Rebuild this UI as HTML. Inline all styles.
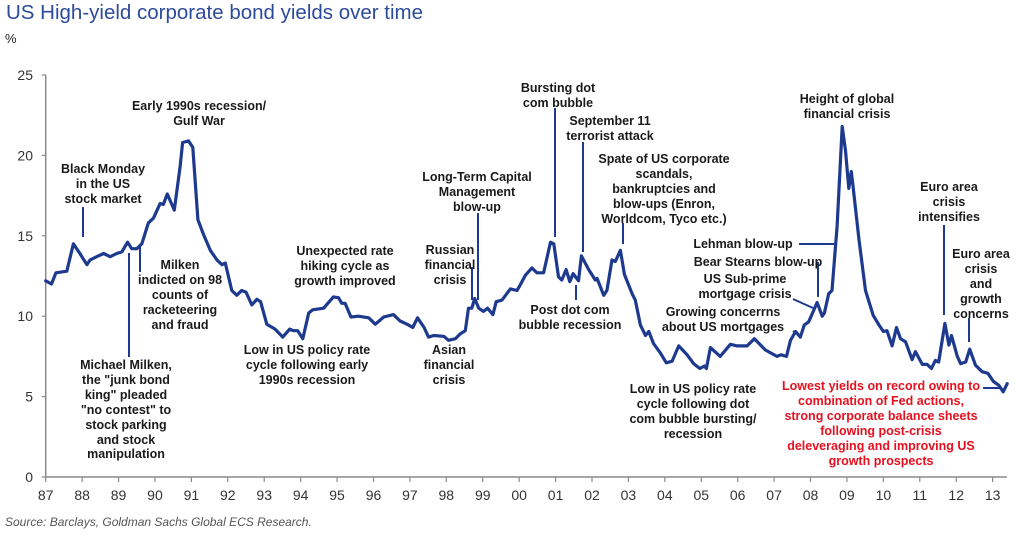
<!DOCTYPE html>
<html><head><meta charset="utf-8"><style>
body{margin:0;background:#fff;width:1018px;height:539px;overflow:hidden;position:relative;font-family:"Liberation Sans",Arial,sans-serif}
.a{position:absolute;font-weight:bold;font-size:12.5px;line-height:14.9px;color:#1a1a1a;text-align:center;white-space:nowrap;transform:translateX(-50%)}
.r{color:#e8101e}
</style></head><body>
<div style="position:absolute;left:6px;top:1px;font-size:20.5px;color:#2d4b9c">US High-yield corporate bond yields over time</div>
<div style="position:absolute;left:5px;top:31px;font-size:13px;color:#222">%</div>
<svg id="chart" width="1018" height="539" style="position:absolute;left:0;top:0"></svg>
<div style="position:absolute;left:5px;top:515px;font-size:12px;font-style:italic;color:#555">Source: Barclays, Goldman Sachs Global ECS Research.</div>

<div class="a" style="left:103px;top:162px">Black Monday<br>in the US<br>stock market</div>
<div class="a" style="left:199px;top:99px">Early 1990s recession/<br>Gulf War</div>
<div class="a" style="left:180px;top:258px">Milken<br>indicted on 98<br>counts of<br>racketeering<br>and fraud</div>
<div class="a" style="left:126px;top:358px">Michael Milken,<br>the "junk bond<br>king" pleaded<br>"no contest" to<br>stock parking<br>and stock<br>manipulation</div>
<div class="a" style="left:345px;top:244px">Unexpected rate<br>hiking cycle as<br>growth improved</div>
<div class="a" style="left:307px;top:343px">Low in US policy rate<br>cycle following early<br>1990s recession</div>
<div class="a" style="left:450px;top:243px">Russian<br>financial<br>crisis</div>
<div class="a" style="left:477px;top:170px">Long-Term Capital<br>Management<br>blow-up</div>
<div class="a" style="left:449px;top:343px">Asian<br>financial<br>crisis</div>
<div class="a" style="left:558px;top:81px">Bursting dot<br>com bubble</div>
<div class="a" style="left:610px;top:114px">September 11<br>terrorist attack</div>
<div class="a" style="left:664px;top:152px">Spate of US corporate<br>scandals,<br>bankruptcies and<br>blow-ups (Enron,<br>Worldcom, Tyco etc.)</div>
<div class="a" style="left:570px;top:303px">Post dot com<br>bubble recession</div>
<div class="a" style="left:693px;top:382px">Low in US policy rate<br>cycle following dot<br>com bubble bursting/<br>recession</div>
<div class="a" style="left:743px;top:237px">Lehman blow-up</div>
<div class="a" style="left:758px;top:255px">Bear Stearns blow-up</div>
<div class="a" style="left:745px;top:272px">US Sub-prime<br>mortgage crisis</div>
<div class="a" style="left:723px;top:305px">Growing concerrns<br>about US mortgages</div>
<div class="a" style="left:847px;top:92px">Height of global<br>financial crisis</div>
<div class="a" style="left:949px;top:180px">Euro area<br>crisis<br>intensifies</div>
<div class="a" style="left:981px;top:247px">Euro area<br>crisis<br>and<br>growth<br>concerns</div>
<div class="a r" style="left:881px;top:379px">Lowest yields on record owing to<br>combination of Fed actions,<br>strong corporate balance sheets<br>following post-crisis<br>deleveraging and improving US<br>growth prospects</div>

<script>
const dates=[1987.0,1987.16,1987.28,1987.58,1987.76,1987.94,1988.13,1988.22,1988.4,1988.59,1988.77,1988.95,1989.09,1989.25,1989.36,1989.5,1989.64,1989.82,1989.96,1990.14,1990.23,1990.34,1990.53,1990.69,1990.76,1990.92,1991.04,1991.18,1991.33,1991.52,1991.7,1991.84,1991.93,1992.11,1992.25,1992.38,1992.5,1992.66,1992.8,1992.9,1993.07,1993.3,1993.51,1993.7,1993.8,1993.92,1994.06,1994.22,1994.33,1994.63,1994.9,1995.04,1995.13,1995.22,1995.38,1995.59,1995.87,1996.05,1996.28,1996.55,1996.73,1996.92,1997.08,1997.21,1997.39,1997.51,1997.65,1997.93,1998.06,1998.25,1998.38,1998.52,1998.61,1998.7,1998.78,1998.89,1999.02,1999.13,1999.28,1999.37,1999.53,1999.76,1999.94,2000.03,2000.17,2000.35,2000.49,2000.67,2000.86,2000.95,2001.08,2001.17,2001.29,2001.39,2001.48,2001.63,2001.71,2001.91,2002.09,2002.14,2002.32,2002.41,2002.55,2002.64,2002.78,2002.89,2003.1,2003.19,2003.33,2003.47,2003.56,2003.69,2003.88,2004.04,2004.2,2004.38,2004.61,2004.79,2004.96,2005.09,2005.14,2005.25,2005.52,2005.8,2005.98,2006.26,2006.46,2006.76,2007.08,2007.19,2007.34,2007.45,2007.59,2007.72,2007.83,2007.95,2008.18,2008.32,2008.38,2008.5,2008.59,2008.73,2008.87,2008.96,2009.05,2009.12,2009.17,2009.33,2009.51,2009.72,2009.88,2010.0,2010.1,2010.24,2010.36,2010.47,2010.61,2010.79,2010.88,2011.07,2011.2,2011.32,2011.43,2011.52,2011.69,2011.8,2011.87,2012.03,2012.12,2012.26,2012.37,2012.53,2012.71,2012.87,2013.02,2013.17,2013.29,2013.4];
const yields=[12.2,12.0,12.7,12.8,14.5,13.9,13.2,13.5,13.7,13.9,13.7,13.9,14.0,14.6,14.2,14.2,14.5,15.8,16.1,17.0,16.95,17.6,16.6,19.3,20.8,20.9,20.5,16.0,15.1,14.1,13.5,13.2,13.3,11.6,11.3,11.6,11.5,10.7,11.05,10.9,9.5,9.2,8.7,9.2,9.1,9.1,8.6,10.2,10.4,10.5,11.2,11.15,10.8,10.8,9.95,10.0,9.9,9.5,9.95,10.1,9.7,9.5,9.3,9.9,9.3,8.7,8.8,8.75,8.5,8.6,8.9,9.1,10.5,10.5,11.1,10.5,10.3,10.5,10.1,10.9,11.0,11.7,11.6,11.95,12.55,13.0,12.7,12.7,14.6,14.5,12.45,12.25,12.9,12.15,12.65,12.2,13.75,12.9,12.25,12.35,11.3,11.6,13.5,13.4,14.1,12.6,11.4,11.0,9.45,8.8,9.05,8.3,7.7,7.1,7.2,8.15,7.6,7.05,6.75,6.9,6.75,8.05,7.5,8.25,8.15,8.15,8.6,7.9,7.5,7.6,7.5,8.5,9.05,8.7,9.45,9.65,10.85,10.0,10.2,11.4,11.6,15.6,21.8,20.3,17.95,19.0,18.05,14.75,11.6,10.05,9.45,9.05,9.1,8.15,9.3,8.6,8.4,7.3,7.8,7.0,7.0,6.75,7.25,7.15,9.55,8.2,8.8,7.5,7.05,7.15,7.95,6.95,6.55,6.45,5.95,5.7,5.3,5.8];
const xTickLabels=["87","88","89","90","91","92","93","94","95","96","97","98","99","00","01","02","03","04","05","06","07","08","09","10","11","12","13"];
const yTicks=[0,5,10,15,20,25];

const NS="http://www.w3.org/2000/svg";
const svg=document.getElementById('chart');
const X0=45.7,PXY=36.42,Y0=477,PXV=16.08;
const xs=d=>X0+(d-1987)*PXY;
const ys=v=>Y0-v*PXV;
function mk(tag,at){const e=document.createElementNS(NS,tag);for(const k in at)e.setAttribute(k,at[k]);svg.appendChild(e);return e;}

let e=mk('line',{x1:X0,y1:ys(25),x2:X0,y2:Y0,stroke:'#8a8a8a','stroke-width':1.5});


e=mk('line',{x1:X0,y1:Y0,x2:1007,y2:Y0,stroke:'#8a8a8a','stroke-width':1.5});


yTicks.forEach(v=>{
  mk('line',{x1:X0-4,y1:ys(v),x2:X0,y2:ys(v),stroke:'#8a8a8a','stroke-width':1.2});
  const t=mk('text',{x:33,y:ys(v)+5,'text-anchor':'end','font-size':14,fill:'#333','font-family':'Liberation Sans, Arial, sans-serif'});
  t.textContent=v;
  
  
});
xTickLabels.forEach((l,i)=>{
  const x=xs(1987+i);
  mk('line',{x1:x,y1:Y0,x2:x,y2:Y0+5,stroke:'#8a8a8a','stroke-width':1.2});
  const t=mk('text',{x:x,y:Y0+23,'text-anchor':'middle','font-size':14,fill:'#333','font-family':'Liberation Sans, Arial, sans-serif'});
  t.textContent=l;
  
  
});
// annotation connectors
const conn=[[83,207,83,237],[140,247,140,272],[129,253,129,357],[472,267,472,300],[478,213,478,300],[555,108,555,237],[583,142,583,252],[623,223,623,244],[576,285,576,300],[799,244,835,244],[818,262,818,297],[793,299,813,308],[793,331,800,336],[944,225,944,315],[969,318,969,342],[983,388,1000,388]];
conn.forEach(c=>{
  const l=mk('line',{x1:c[0],y1:c[1],x2:c[2],y2:c[3],stroke:'#1d3a8f','stroke-width':2});
  
  
});
const p=mk('polyline',{points:dates.map((d,i)=>xs(d).toFixed(1)+','+ys(yields[i]).toFixed(1)).join(' '),fill:'none',stroke:'#1d3a8f','stroke-width':3.2,'stroke-linejoin':'round','stroke-linecap':'round'});


</script>
</body></html>
